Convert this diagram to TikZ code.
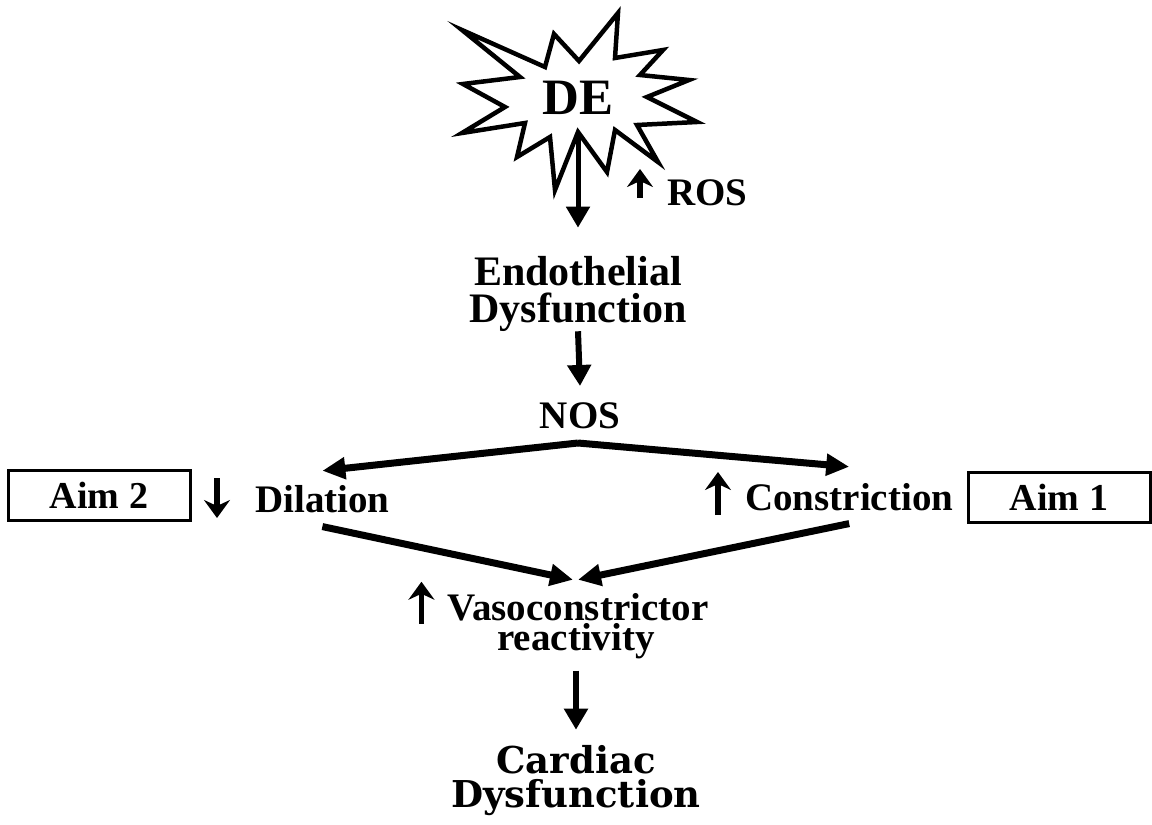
\documentclass[tikz,border=0pt]{standalone}
\usepackage{fontspec}
\setmainfont{Liberation Serif}
\newfontfamily\cardfont{DejaVu Serif}
\usetikzlibrary{arrows.meta,calc}
\tikzset{
  lbl/.style={inner sep=0pt, font=\fontsize{39}{39}\selectfont\bfseries},
  biglbl/.style={inner sep=0pt, align=center, font=\fontsize{42}{37}\selectfont\bfseries},
  delbl/.style={inner sep=0pt, font=\fontsize{51}{51}\selectfont\bfseries},
  cardlbl/.style={inner sep=0pt, align=center, font=\fontsize{37}{34}\selectfont\cardfont\bfseries},
  flow/.style={line width=6pt, -{Triangle[length=21pt,width=23pt]}},
  diag/.style={line width=7pt, -{Triangle[length=23pt,width=21pt]}},
  updown/.style={line width=5.5pt, -{Stealth[length=18pt,width=26pt,inset=6pt]}},
  aimbox/.style={draw, line width=3pt, minimum width=182pt, minimum height=50pt,
    inner sep=0pt, font=\fontsize{38}{38}\selectfont\bfseries},
  burst/.style={draw, line width=4.5pt, line join=miter, fill=white}
}
\begin{document}
\begin{tikzpicture}[x=1pt,y=-1pt]
\useasboundingbox[fill=white] (0,0) rectangle (1152,825);
% starburst
\draw[burst] (462,30) -- (545,67) -- (554,34) -- (579,61) -- (618,13) -- (615,58)
  -- (663,50) -- (640,75) -- (689,80) -- (647,97) -- (697,122) -- (637,125)
  -- (658,162) -- (615,130) -- (607,172) -- (578,132) -- (555,190) -- (550,137)
  -- (517,157) -- (525,123) -- (462,133) -- (505,107) -- (463,84) -- (520,77) -- cycle;
\node[delbl] (de) at (578,98) {DE};
\coordinate (deout) at (578,134);

\node[biglbl, anchor=base] (endo) at (578,322) {Endothelial\\Dysfunction};
\draw[flow, line width=5pt] (deout) -- ([yshift=28pt]endo.north);

\node[lbl, anchor=base west] (ros) at (667,205) {ROS};
\draw[updown] ($(ros.base west)+(-27,-7)$) -- ++(0,-29);

\node[lbl, anchor=base] (nos) at (580,428) {NOS};
\draw[flow] (endo.south) -- ([yshift=16pt]nos.north);

\coordinate (split) at (578,443);
\node[lbl, anchor=base west] (dil) at (255,512) {Dilation};
\node[lbl, anchor=base west] (con) at (745,510) {Constriction};
\draw[diag] (split) -- ([yshift=14pt]dil.north);
\draw[diag] (split) -- ([yshift=16pt]con.north);
\draw[updown] ($(dil.base west)+(-38,-34)$) -- ++(0,40);
\draw[updown] ($(con.base west)+(-27,5)$) -- ++(0,-43);

\node[aimbox] (aim2) at (99,495) {Aim 2};
\node[aimbox] (aim1) at (1059,497) {Aim 1};

\node[lbl, anchor=base, align=center, font=\fontsize{39}{30}\selectfont\bfseries]
  (vaso) at (576,650) {\hspace*{4pt}Vasoconstrictor\\reactivity};
\draw[diag] ([yshift=-14pt]dil.south) -- ([xshift=-3pt,yshift=13pt]vaso.north);
\draw[diag] ([yshift=-13pt]con.south) -- ([xshift=2pt,yshift=13pt]vaso.north);
\draw[updown] ($(vaso.north west)+(-22,31)$) -- ++(0,-42);

\node[cardlbl, anchor=base] (card) at (576,807) {Cardiac\\Dysfunction};
\draw[flow] ([yshift=-12pt]vaso.south) -- ([yshift=15pt]card.north);
\end{tikzpicture}
\end{document}
